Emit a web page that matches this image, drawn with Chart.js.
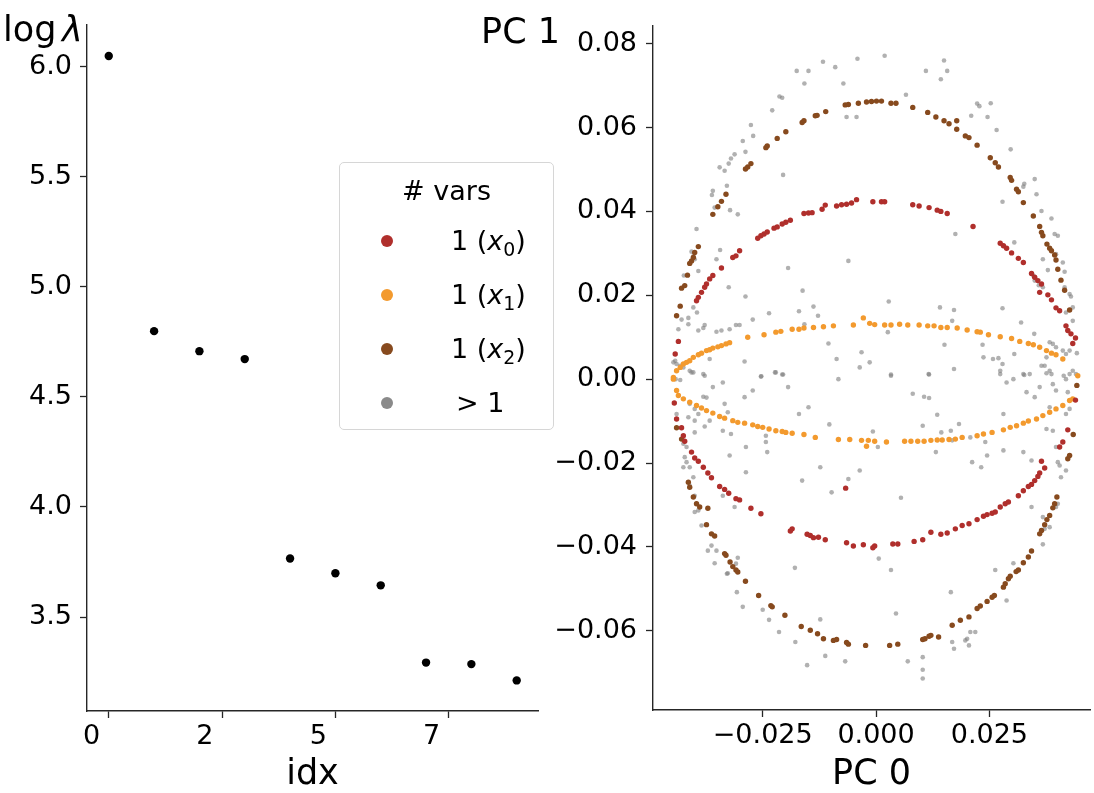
<!DOCTYPE html>
<html>
<head>
<meta charset="utf-8">
<script src="https://cdn.jsdelivr.net/npm/chart.js@4.4.1/dist/chart.umd.min.js"></script>
<style>
  html, body { margin: 0; padding: 0; background: #fff; }
  body { width: 1094px; height: 793px; position: relative; overflow: hidden; font-family: 'DejaVu Sans', sans-serif; }
  #eig { position: absolute; left: 0; top: 0; }
  #pca { position: absolute; left: 470px; top: 0; }
  #legend {
    position: absolute; left: 339px; top: 162px; width: 213px; height: 266px;
    border: 1px solid #d6d6d6; border-radius: 5px; background: rgba(255,255,255,0.85);
    font-size: 27px; color: #000; z-index: 5;
  }
  #legend .ttl { position: absolute; left: 0; right: 0; top: 10px; text-align: center; line-height: 36px; }
  #legend .row { position: absolute; left: 0; right: 0; height: 36px; line-height: 36px; }
  #legend .dot { position: absolute; left: 41px; top: 12px; width: 12px; height: 12px; border-radius: 50%; }
  #legend .lbl { position: absolute; left: 111px; white-space: nowrap; }
  #legend sub { font-size: 0.7em; vertical-align: -0.3em; line-height: 0; }
</style>
</head>
<body>
<canvas id="eig" width="545" height="793"></canvas>
<canvas id="pca" width="624" height="793"></canvas>
<div id="legend"><div class="ttl"># vars</div></div>
<script>
// ---- left panel: eigenvalue spectrum ----
const idx = [0, 1, 2, 3, 4, 5, 6, 7, 8, 9];
const logLambda = [6.049, 4.799, 4.708, 4.672, 3.766, 3.699, 3.644, 3.293, 3.286, 3.212];
const idxTicks = [0, 2.5, 5, 7.5];
const idxTickLabels = ['0 ', '2 ', '5 ', '7 '];
const logTicks = [3.5, 4.0, 4.5, 5.0, 5.5, 6.0];

// ---- right panel: PC 0 / PC 1 projections ----
const pcXTicks = [-0.025, 0, 0.025];
const pcYTicks = [-0.06, -0.04, -0.02, 0, 0.02, 0.04, 0.06, 0.08];

const seriesNames = ['1 (<i>x</i><sub>0</sub>)', '1 (<i>x</i><sub>1</sub>)', '1 (<i>x</i><sub>2</sub>)', '<span style="margin-left:5px">&gt; 1</span>'];
const seriesColors = ['#b02f2c', '#f39a2e', '#874a1e', 'rgba(125,125,125,0.6)'];
const legendColors = ['#b02f2c', '#f39a2e', '#874a1e', '#8a8a8a'];

const x0Points = [
  [-0.0443,0.0060],[-0.0436,0.0090],[-0.0396,0.0187],[-0.0392,0.0195],[-0.0385,0.0207],[-0.0378,0.0219],[-0.0374,0.0227],[-0.0367,0.0239],[-0.0360,0.0247],[-0.0341,0.0265],[-0.0316,0.0290],[-0.0309,0.0294],[-0.0301,0.0306],[-0.0261,0.0336],[-0.0254,0.0342],[-0.0247,0.0346],[-0.0240,0.0351],[-0.0225,0.0360],[-0.0218,0.0363],[-0.0207,0.0370],[-0.0199,0.0374],[-0.0189,0.0379],[-0.0159,0.0395],[-0.0149,0.0396],[-0.0141,0.0397],[-0.0119,0.0405],[-0.0112,0.0415],[-0.0087,0.0413],[-0.0076,0.0416],[-0.0065,0.0417],[-0.0054,0.0420],[-0.0043,0.0428],[-0.0007,0.0423],[0.0012,0.0423],[0.0019,0.0423],[0.0081,0.0416],[0.0095,0.0413],[0.0117,0.0409],[0.0135,0.0403],[0.0143,0.0400],[0.0157,0.0395],[0.0214,0.0364],[0.0274,0.0324],[0.0281,0.0318],[0.0288,0.0312],[0.0299,0.0301],[0.0314,0.0288],[0.0325,0.0278],[0.0343,0.0252],[0.0350,0.0243],[0.0357,0.0235],[0.0365,0.0227],[0.0361,0.0207],[0.0379,0.0201],[0.0387,0.0189],[0.0397,0.0170],[0.0405,0.0163],[0.0419,0.0127],[0.0423,0.0116],[0.0430,0.0108],[0.0434,0.0085],[0.0440,0.0098],
  [-0.0445,-0.0057],[-0.0440,-0.0095],[-0.0429,-0.0116],[-0.0425,-0.0135],[-0.0422,-0.0148],[-0.0407,-0.0174],[-0.0400,-0.0188],[-0.0392,-0.0196],[-0.0381,-0.0210],[-0.0371,-0.0224],[-0.0363,-0.0235],[-0.0345,-0.0256],[-0.0334,-0.0263],[-0.0325,-0.0272],[-0.0309,-0.0285],[-0.0301,-0.0288],[-0.0276,-0.0308],[-0.0254,-0.0321],[-0.0189,-0.0362],[-0.0185,-0.0357],[-0.0152,-0.0370],[-0.0145,-0.0373],[-0.0138,-0.0378],[-0.0127,-0.0377],[-0.0112,-0.0383],[-0.0065,-0.0390],[-0.0050,-0.0398],[-0.0028,-0.0395],[-0.0003,-0.0398],[-0.0007,-0.0402],[0.0037,-0.0393],[0.0048,-0.0393],[0.0084,-0.0387],[0.0103,-0.0383],[0.0121,-0.0365],[0.0143,-0.0370],[0.0157,-0.0367],[0.0175,-0.0357],[0.0190,-0.0349],[0.0205,-0.0345],[0.0223,-0.0335],[0.0237,-0.0327],[0.0245,-0.0323],[0.0256,-0.0320],[0.0263,-0.0317],[0.0274,-0.0305],[0.0285,-0.0297],[0.0292,-0.0293],[0.0314,-0.0278],[0.0325,-0.0266],[0.0336,-0.0256],[0.0343,-0.0251],[0.0350,-0.0242],[0.0357,-0.0232],[0.0361,-0.0224],[0.0372,-0.0212],[0.0365,-0.0196],[0.0405,-0.0162],[0.0412,-0.0150],[0.0423,-0.0121],[0.0440,-0.0050],[-0.0067,-0.0260]
];

const x1Points = [
  [-0.0447,0.0004],[-0.0440,0.0020],[-0.0432,0.0028],[-0.0425,0.0036],[-0.0418,0.0040],[-0.0411,0.0044],[-0.0403,0.0052],[-0.0392,0.0058],[-0.0385,0.0062],[-0.0374,0.0068],[-0.0367,0.0070],[-0.0360,0.0074],[-0.0349,0.0077],[-0.0341,0.0080],[-0.0331,0.0084],[-0.0323,0.0087],[-0.0283,0.0100],[-0.0247,0.0106],[-0.0221,0.0112],[-0.0210,0.0114],[-0.0185,0.0119],[-0.0170,0.0119],[-0.0159,0.0122],[-0.0138,0.0123],[-0.0116,0.0125],[-0.0094,0.0127],[-0.0050,0.0129],[-0.0028,0.0146],[-0.0014,0.0133],[-0.0003,0.0130],[0.0019,0.0129],[0.0033,0.0129],[0.0052,0.0131],[0.0070,0.0129],[0.0095,0.0129],[0.0114,0.0127],[0.0128,0.0127],[0.0143,0.0123],[0.0157,0.0123],[0.0179,0.0122],[0.0201,0.0117],[0.0223,0.0113],[0.0230,0.0112],[0.0248,0.0106],[0.0274,0.0101],[0.0299,0.0097],[0.0317,0.0090],[0.0336,0.0085],[0.0347,0.0082],[0.0361,0.0076],[0.0376,0.0068],[0.0387,0.0062],[0.0397,0.0058],[0.0412,0.0048],[0.0445,0.0008],
  [-0.0447,0.0000],[-0.0440,-0.0027],[-0.0436,-0.0039],[-0.0425,-0.0047],[-0.0411,-0.0055],[-0.0396,-0.0063],[-0.0385,-0.0069],[-0.0374,-0.0075],[-0.0360,-0.0081],[-0.0345,-0.0089],[-0.0334,-0.0093],[-0.0316,-0.0099],[-0.0305,-0.0103],[-0.0290,-0.0105],[-0.0272,-0.0109],[-0.0261,-0.0113],[-0.0250,-0.0115],[-0.0236,-0.0119],[-0.0221,-0.0123],[-0.0207,-0.0125],[-0.0199,-0.0127],[-0.0185,-0.0129],[-0.0159,-0.0132],[-0.0134,-0.0139],[-0.0083,-0.0144],[-0.0058,-0.0144],[-0.0032,-0.0146],[-0.0021,-0.0160],[-0.0017,-0.0146],[-0.0003,-0.0148],[0.0023,-0.0150],[0.0063,-0.0148],[0.0077,-0.0148],[0.0092,-0.0148],[0.0106,-0.0148],[0.0121,-0.0146],[0.0135,-0.0145],[0.0146,-0.0145],[0.0161,-0.0144],[0.0175,-0.0143],[0.0190,-0.0139],[0.0223,-0.0135],[0.0237,-0.0131],[0.0256,-0.0127],[0.0281,-0.0121],[0.0296,-0.0115],[0.0310,-0.0111],[0.0325,-0.0105],[0.0336,-0.0100],[0.0354,-0.0095],[0.0368,-0.0087],[0.0383,-0.0079],[0.0397,-0.0071],[0.0412,-0.0063],[0.0427,-0.0051],[0.0434,-0.0047]
];

const x2Points = [
  [-0.0440,0.0151],[-0.0432,0.0174],[-0.0429,0.0217],[-0.0422,0.0223],[-0.0416,0.0248],[-0.0411,0.0276],[-0.0407,0.0282],[-0.0403,0.0290],[-0.0400,0.0302],[-0.0392,0.0316],[-0.0360,0.0393],[-0.0349,0.0411],[-0.0341,0.0424],[-0.0331,0.0441],[-0.0288,0.0501],[-0.0283,0.0506],[-0.0276,0.0514],[-0.0243,0.0552],[-0.0240,0.0556],[-0.0218,0.0574],[-0.0199,0.0590],[-0.0163,0.0612],[-0.0159,0.0616],[-0.0134,0.0628],[-0.0130,0.0629],[-0.0111,0.0638],[-0.0068,0.0654],[-0.0061,0.0655],[-0.0039,0.0658],[-0.0021,0.0661],[-0.0010,0.0662],[0.0001,0.0663],[0.0012,0.0663],[0.0033,0.0658],[0.0044,0.0658],[0.0081,0.0648],[0.0114,0.0636],[0.0132,0.0625],[0.0150,0.0616],[0.0161,0.0609],[0.0178,0.0616],[0.0178,0.0596],[0.0197,0.0580],[0.0205,0.0576],[0.0223,0.0558],[0.0252,0.0528],[0.0263,0.0516],[0.0270,0.0506],[0.0296,0.0481],[0.0299,0.0474],[0.0310,0.0453],[0.0314,0.0447],[0.0325,0.0421],[0.0347,0.0389],[0.0361,0.0364],[0.0365,0.0350],[0.0368,0.0342],[0.0377,0.0322],[0.0383,0.0312],[0.0387,0.0306],[0.0394,0.0296],[0.0397,0.0284],[0.0401,0.0262],[0.0408,0.0236],[0.0416,0.0212],[0.0427,0.0165],
  [-0.0440,-0.0116],[-0.0429,-0.0143],[-0.0414,-0.0246],[-0.0411,-0.0258],[-0.0403,-0.0281],[-0.0396,-0.0297],[-0.0389,-0.0305],[-0.0371,-0.0308],[-0.0374,-0.0347],[-0.0363,-0.0369],[-0.0356,-0.0374],[-0.0334,-0.0416],[-0.0331,-0.0420],[-0.0322,-0.0436],[-0.0316,-0.0447],[-0.0309,-0.0455],[-0.0305,-0.0460],[-0.0288,-0.0482],[-0.0259,-0.0516],[-0.0232,-0.0540],[-0.0229,-0.0543],[-0.0201,-0.0563],[-0.0165,-0.0590],[-0.0145,-0.0599],[-0.0129,-0.0607],[-0.0116,-0.0619],[-0.0094,-0.0623],[-0.0087,-0.0621],[-0.0065,-0.0628],[-0.0061,-0.0632],[-0.0023,-0.0635],[0.0030,-0.0635],[0.0048,-0.0632],[0.0103,-0.0621],[0.0108,-0.0619],[0.0117,-0.0613],[0.0121,-0.0611],[0.0138,-0.0615],[0.0168,-0.0587],[0.0186,-0.0575],[0.0205,-0.0567],[0.0223,-0.0547],[0.0230,-0.0541],[0.0245,-0.0530],[0.0256,-0.0520],[0.0261,-0.0516],[0.0281,-0.0496],[0.0285,-0.0488],[0.0292,-0.0476],[0.0296,-0.0470],[0.0309,-0.0459],[0.0314,-0.0455],[0.0325,-0.0438],[0.0336,-0.0424],[0.0343,-0.0410],[0.0361,-0.0369],[0.0365,-0.0361],[0.0372,-0.0347],[0.0377,-0.0335],[0.0383,-0.0325],[0.0390,-0.0307],[0.0394,-0.0297],[0.0399,-0.0281],[0.0423,-0.0190],[0.0427,-0.0182],[0.0435,-0.0132],[0.0443,-0.0015]
];

const multiPoints = [
  [-0.0041,0.0764],[0.0019,0.0771],[-0.0117,0.0757],[-0.0090,0.0744],[-0.0175,0.0735],[-0.0149,0.0735],[-0.0158,0.0705],[-0.0072,0.0705],[0.0110,0.0735],[0.0157,0.0735],[0.0150,0.0760],[0.0143,0.0715],[0.0066,0.0678],[-0.0207,0.0671],[-0.0213,0.0674],[-0.0229,0.0641],[-0.0276,0.0606],[-0.0271,0.0580],[-0.0294,0.0568],[-0.0288,0.0542],[-0.0312,0.0536],[-0.0320,0.0526],[-0.0325,0.0514],[-0.0345,0.0505],[-0.0334,0.0497],[-0.0329,0.0461],[-0.0360,0.0449],[-0.0362,0.0439],[-0.0356,0.0409],[-0.0322,0.0403],[-0.0305,0.0393],[-0.0205,0.0487],[-0.0396,0.0358],[-0.0407,0.0304],[-0.0403,0.0293],[-0.0400,0.0286],[-0.0352,0.0286],[-0.0344,0.0308],[-0.0392,0.0258],[-0.0424,0.0247],[-0.0325,0.0219],[-0.0288,0.0197],[-0.0403,0.0171],[-0.0395,0.0159],[-0.0414,0.0146],[-0.0429,0.0142],[-0.0414,0.0131],[-0.0436,0.0119],[-0.0378,0.0129],[-0.0381,0.0122],[-0.0392,0.0116],[-0.0352,0.0113],[-0.0341,0.0116],[-0.0323,0.0119],[-0.0309,0.0129],[-0.0301,0.0129],[-0.0272,0.0142],[-0.0236,0.0157],[-0.0194,0.0265],[-0.0162,0.0211],[-0.0170,0.0162],[-0.0138,0.0173],[-0.0128,0.0151],[-0.0158,0.0131],[-0.0065,0.0625],[-0.0043,0.0625],[-0.0061,0.0282],[0.0028,0.0185],[0.0223,0.0657],[0.0228,0.0651],[0.0253,0.0658],[0.0210,0.0628],[0.0246,0.0625],[0.0266,0.0594],[0.0297,0.0548],[0.0279,0.0423],[0.0175,0.0346],[0.0327,0.0466],[0.0325,0.0459],[0.0350,0.0477],[0.0354,0.0441],[0.0365,0.0401],[0.0387,0.0383],[0.0394,0.0346],[0.0401,0.0342],[0.0305,0.0326],[0.0368,0.0286],[0.0379,0.0260],[0.0397,0.0298],[0.0412,0.0278],[0.0416,0.0256],[0.0347,0.0247],[0.0350,0.0235],[0.0359,0.0224],[0.0368,0.0219],[0.0416,0.0219],[0.0427,0.0203],[0.0430,0.0197],[0.0434,0.0171],[0.0419,0.0159],[0.0279,0.0169],[0.0141,0.0171],[0.0172,0.0165],[0.0168,0.0139],[0.0320,0.0135],[0.0434,0.0139],[0.0026,0.0112],[-0.0105,0.0085],[-0.0032,0.0064],[-0.0087,0.0048],[-0.0014,0.0040],[-0.0036,0.0028],[0.0151,0.0082],[0.0235,0.0082],[0.0305,0.0060],[0.0237,0.0052],[0.0258,0.0048],[0.0270,0.0050],[0.0279,0.0036],[0.0274,0.0020],[0.0325,0.0012],[0.0349,0.0108],[0.0383,0.0088],[0.0390,0.0084],[0.0376,0.0052],[0.0365,0.0032],[0.0372,0.0032],[0.0383,0.0020],[0.0387,0.0012],[0.0397,0.0076],[0.0412,0.0068],[0.0419,0.0060],[0.0427,0.0068],[0.0443,0.0062],[0.0441,0.0012],[0.0434,0.0020],[0.0414,0.0008],[-0.0389,0.0060],[-0.0367,0.0048],[-0.0443,0.0044],[-0.0447,0.0040],[-0.0440,0.0036],[-0.0432,0.0032],[-0.0425,0.0028],[-0.0411,0.0020],[-0.0403,0.0016],[-0.0378,0.0008],[-0.0290,0.0042],[-0.0253,0.0007],[-0.0223,0.0016],[-0.0205,0.0011],[0.0033,0.0011],[0.0117,0.0011],[0.0172,0.0024],[-0.0442,0.0000],[-0.0432,-0.0002],
  [-0.0407,0.0016],[-0.0381,0.0012],[-0.0338,-0.0008],[-0.0360,-0.0019],[-0.0381,-0.0042],[-0.0374,-0.0044],[-0.0334,-0.0059],[-0.0411,-0.0059],[-0.0400,-0.0071],[-0.0392,-0.0083],[-0.0440,-0.0083],[-0.0414,-0.0091],[-0.0400,-0.0099],[-0.0378,-0.0113],[-0.0367,-0.0099],[-0.0338,-0.0123],[-0.0327,-0.0079],[-0.0320,-0.0131],[-0.0400,-0.0127],[-0.0425,-0.0154],[-0.0418,-0.0162],[-0.0422,-0.0186],[-0.0418,-0.0198],[-0.0411,-0.0210],[-0.0425,-0.0210],[-0.0403,-0.0234],[-0.0411,-0.0254],[-0.0400,-0.0278],[-0.0396,-0.0297],[-0.0392,-0.0313],[-0.0400,-0.0317],[-0.0385,-0.0349],[-0.0363,-0.0397],[-0.0371,-0.0409],[-0.0356,-0.0439],[-0.0338,-0.0278],[-0.0312,-0.0305],[-0.0323,-0.0182],[-0.0305,-0.0426],[-0.0309,-0.0440],[-0.0329,-0.0464],[-0.0307,-0.0508],[-0.0294,-0.0543],[-0.0250,-0.0550],[-0.0236,-0.0574],[-0.0214,-0.0603],[-0.0243,-0.0135],[-0.0243,-0.0150],[-0.0240,-0.0174],[-0.0287,-0.0162],[-0.0287,-0.0222],[-0.0290,-0.0043],[-0.0272,-0.0027],[-0.0254,0.0006],[-0.0221,0.0016],[-0.0207,0.0011],[-0.0194,-0.0019],[-0.0170,-0.0083],[-0.0149,-0.0067],[-0.0163,-0.0242],[-0.0123,-0.0210],[-0.0103,-0.0108],[-0.0098,-0.0270],[-0.0061,-0.0238],[-0.0036,-0.0218],[-0.0083,0.0000],[-0.0007,-0.0125],[0.0004,-0.0162],[0.0006,-0.0428],[0.0033,-0.0455],[0.0044,-0.0559],[0.0033,0.0008],[0.0055,-0.0283],[0.0081,-0.0035],[0.0106,-0.0042],[0.0117,-0.0045],[0.0103,-0.0111],[0.0135,-0.0085],[0.0132,-0.0174],[0.0116,0.0012],[0.0144,-0.0127],[0.0165,-0.0123],[0.0168,-0.0146],[0.0183,-0.0107],[0.0208,-0.0139],[0.0241,-0.0150],[0.0245,-0.0182],[0.0212,-0.0198],[0.0232,-0.0210],[0.0281,-0.0083],[0.0281,-0.0170],[0.0325,-0.0174],[0.0343,-0.0194],[0.0339,0.0012],[0.0327,0.0010],[0.0376,0.0014],[0.0303,0.0000],[0.0274,0.0012],[0.0288,-0.0008],[0.0332,-0.0031],[0.0350,-0.0043],[0.0361,-0.0019],[0.0390,-0.0012],[0.0397,-0.0027],[0.0383,-0.0067],[0.0376,-0.0119],[0.0390,-0.0123],[0.0397,-0.0162],[0.0405,-0.0206],[0.0408,-0.0234],[0.0419,-0.0218],[0.0401,-0.0198],[0.0419,-0.0083],[0.0427,-0.0071],[0.0423,-0.0031],[0.0419,0.0000],[0.0427,0.0012],[0.0343,-0.0305],[0.0368,-0.0329],[0.0372,-0.0357],[0.0368,-0.0394],[0.0383,-0.0353],[0.0397,-0.0305],[0.0401,-0.0297],[0.0263,-0.0455],[0.0303,-0.0439],[0.0288,-0.0528],[0.0165,-0.0508],[0.0168,-0.0627],[0.0172,-0.0643],[0.0197,-0.0623],[0.0201,-0.0619],[0.0208,-0.0603],[0.0219,-0.0603],[0.0205,-0.0635],[0.0103,-0.0663],[0.0103,-0.0714],[0.0103,-0.0693],[0.0070,-0.0673],[-0.0068,-0.0673],[-0.0112,-0.0660],[-0.0152,-0.0682],[-0.0178,-0.0627],[-0.0123,-0.0573],[-0.0179,-0.0450],[-0.0327,-0.0463],[-0.0352,-0.0409]
];

Chart.defaults.font.family = "'DejaVu Sans', sans-serif";
Chart.defaults.color = '#000';

const INK = '#262626';
const TICK_FONT = { size: 27 };
const TITLE_FONT = { size: 35 };

function minus(s) { return s.replace('-', '\u2212'); }

function axisStyle() {
  return {
    grid: { display: true, drawOnChartArea: false, drawTicks: true, tickLength: 7, tickColor: INK, tickWidth: 1.3 },
    border: { display: true, color: INK, width: 1.4 }
  };
}

// y-label placed horizontally above the y axis, like matplotlib's rotated=0 label
function cornerTitle(draw) {
  return {
    id: 'cornerTitle',
    afterDraw(chart) {
      const c = chart.ctx;
      c.save();
      c.fillStyle = '#000';
      c.textBaseline = 'alphabetic';
      draw(c, chart.chartArea);
      c.restore();
    }
  };
}

const toXY = pts => pts.map(p => ({ x: p[0], y: p[1] }));

new Chart(document.getElementById('eig'), {
  type: 'scatter',
  data: {
    datasets: [{
      data: idx.map((v, i) => ({ x: v, y: logLambda[i] })),
      backgroundColor: '#000',
      borderWidth: 0,
      pointRadius: 4.2
    }]
  },
  options: {
    responsive: false,
    animation: false,
    layout: { padding: { top: 25, right: 7, left: 0, bottom: 0 } },
    plugins: { legend: { display: false }, tooltip: { enabled: false } },
    scales: {
      x: {
        type: 'linear', min: -0.48, max: 9.47,
        ...axisStyle(),
        afterBuildTicks: s => { s.ticks = idxTicks.map(v => ({ value: v })); },
        afterFit: s => { s.height = 82; },
        ticks: {
          font: TICK_FONT, padding: 3, align: 'end', maxRotation: 0, autoSkip: false,
          callback: (v, i) => idxTickLabels[i]
        },
        title: { display: true, text: 'idx', font: TITLE_FONT, padding: { top: 0, bottom: -3 } }
      },
      y: {
        type: 'linear', min: 3.073, max: 6.19,
        ...axisStyle(),
        afterBuildTicks: s => { s.ticks = logTicks.map(v => ({ value: v })); },
        afterFit: s => { s.width = 87; },
        ticks: { font: TICK_FONT, padding: 8, autoSkip: false, callback: v => v.toFixed(1) }
      }
    }
  },
  plugins: [cornerTitle((c, area) => {
    c.font = "35px 'DejaVu Sans'";
    c.textAlign = 'left';
    c.fillText('log', area.left - 84, 41);
    c.font = "italic 35px 'DejaVu Sans'";
    c.fillText('\u03bb', area.left - 25, 41);
  })]
});

const pcSeries = [x0Points, x1Points, x2Points, multiPoints];

new Chart(document.getElementById('pca'), {
  type: 'scatter',
  data: {
    datasets: pcSeries.map((pts, i) => ({
      label: seriesNames[i],
      data: toXY(pts),
      backgroundColor: seriesColors[i],
      borderWidth: 0,
      pointRadius: i === 3 ? 2.3 : 2.7,
      order: i === 3 ? 10 : i
    }))
  },
  options: {
    responsive: false,
    animation: false,
    layout: { padding: { top: 24, right: 0, left: 0, bottom: 0 } },
    plugins: { legend: { display: false }, tooltip: { enabled: false } },
    scales: {
      x: {
        type: 'linear', min: -0.0492, max: 0.0472,
        ...axisStyle(),
        afterBuildTicks: s => { s.ticks = pcXTicks.map(v => ({ value: v })); },
        afterFit: s => { s.height = 83; },
        ticks: { font: TICK_FONT, padding: 3, maxRotation: 0, autoSkip: false, callback: v => minus(v.toFixed(3)) },
        title: { display: true, text: 'PC 0', font: TITLE_FONT, padding: { top: 0, bottom: -3 } }
      },
      y: {
        type: 'linear', min: -0.0789, max: 0.0844,
        ...axisStyle(),
        afterBuildTicks: s => { s.ticks = pcYTicks.map(v => ({ value: v })); },
        afterFit: s => { s.width = 183; },
        ticks: { font: TICK_FONT, padding: 9, autoSkip: false, callback: v => minus(v.toFixed(2)) }
      }
    }
  },
  plugins: [cornerTitle((c, area) => {
    c.font = "35px 'DejaVu Sans'";
    c.textAlign = 'right';
    c.fillText('PC 1', area.left - 93, 43);
  })]
});

// legend: built from the series names/colours
const legend = document.getElementById('legend');
seriesNames.forEach((name, i) => {
  const row = document.createElement('div');
  row.className = 'row';
  row.style.top = (60 + i * 54) + 'px';
  row.innerHTML = '<span class="dot" style="background:' + legendColors[i] + '"></span><span class="lbl">' + name + '</span>';
  legend.appendChild(row);
});
</script>
</body>
</html>
